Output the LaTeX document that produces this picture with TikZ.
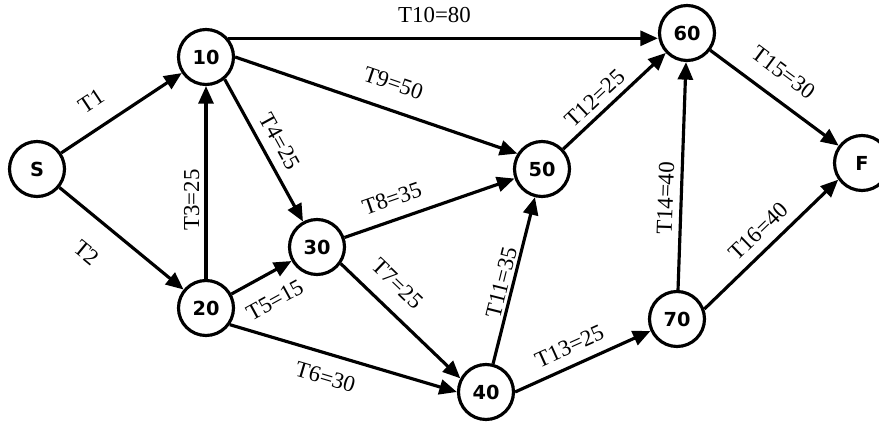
\documentclass[tikz,border=0pt]{standalone}
\usepackage{fontspec}
\setmainfont{Liberation Serif}
\newfontfamily\nodefont{DejaVu Sans}
\usetikzlibrary{arrows.meta}

\begin{document}
\begin{tikzpicture}[line width=1.8pt, >={Triangle[length=10pt,width=8.5pt]},
  st/.style={draw,circle,minimum size=1.1cm,inner sep=0pt,font=\nodefont\bfseries\fontsize{11}{13}\selectfont},
  tl/.style={sloped,inner sep=0pt,font=\fontsize{13}{15}\selectfont}]
\useasboundingbox (0,0) rectangle (17.58,8.46);
\node[st] (s) at (0.74,5.08) {S};
\node[st] (n10) at (4.12,7.32) {10};
\node[st] (n20) at (4.12,2.30) {20};
\node[st] (n30) at (6.34,3.52) {30};
\node[st] (n40) at (9.72,0.62) {40};
\node[st] (n50) at (10.84,5.08) {50};
\node[st] (n60) at (13.74,7.80) {60};
\node[st] (n70) at (13.54,2.08) {70};
\node[st] (f) at (17.24,5.20) {F};
\draw[->] (s) -- (n10) node[tl,above=0.35cm,pos=0.37]{T1};
\draw[->] (s) -- (n20) node[tl,below=0.48cm,pos=0.39]{T2};
\draw[->] (n20) -- (n10) node[tl,above=0.1cm,pos=0.41]{T3=25};
\draw[->] (n10.-50) -- (n30) node[tl,above=0.18cm,pos=0.5]{T4=25};
\draw[->] (n20) -- (n30) node[tl,below=0.34cm,pos=0.51]{T5=15};
\draw[->] (n20.-35) -- (n40.west) node[tl,below=0.28cm,pos=0.45]{T6=30};
\draw[->] (n30.-35) -- (n40.152) node[tl,above=0.31cm,pos=0.33]{T7=25};
\draw[->] (n30) -- (n50) node[tl,above=0.24cm,pos=0.32]{T8=35};
\draw[->] (n10.east) -- (n50.148) node[tl,above=0.35cm,pos=0.53]{T9=50};
\draw[->] (n10.40) -- (n10.40 -| n60.west) node[tl,above=0.27cm,pos=0.48]{T10=80};
\draw[->] (n40) -- (n50) node[tl,above=0.05cm,pos=0.47]{T11=35};
\draw[->] (n50) -- (n60) node[tl,above=0.12cm,pos=0.41]{T12=25};
\draw[->] (n40.east) -- (n70) node[tl,above=0.2cm,pos=0.46]{T13=25};
\draw[->] (n70) -- (n60) node[tl,above=0.13cm,pos=0.4]{T14=40};
\draw[->] (n60) -- (f) node[tl,above=0.33cm,pos=0.45]{T15=30};
\draw[->] (n70.20) -- (f.-145) node[tl,above=0.18cm,pos=0.5]{T16=40};
\end{tikzpicture}
\end{document}
